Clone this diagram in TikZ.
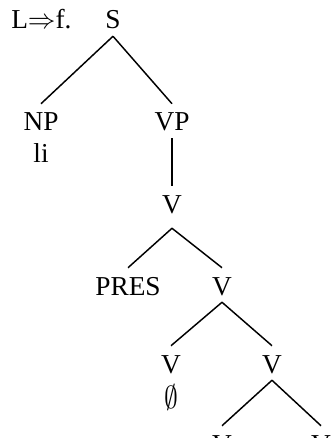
\documentclass[tikz,border=0pt]{standalone}
\usepackage{amssymb}
\usepackage{graphicx}
\usepackage{fontspec}
\setmainfont{Liberation Serif}
\tikzset{
    cat/.style={inner xsep=0pt, inner ysep=3pt, text height=17.25pt, text depth=2.25pt, anchor=base},
    low/.style={text depth=8.25pt},
    branch/.style={line width=1.1pt}
}

\begin{document}
\begin{tikzpicture}[x=0.75pt, y=-0.75pt, font=\fontsize{20.5}{24}\selectfont]
    \useasboundingbox (0,0) rectangle (333,438);
    \clip (0,0) rectangle (333,438);

    % label of the rule
    \node[anchor=base west, inner sep=0pt] (rule) at (11,29) {L$\Rightarrow$f.};

    % the categories
    \node[cat] (s) at (113,29) {S};
    \node[cat] (np) at (41,131) {NP};
    \node[anchor=base, inner sep=0pt] (li) at (41,163) {li};
    \node[cat] (vp) at (172,131) {VP};
    \node[cat, low] (v1) at (172,213) {V};
    \node[cat] (pres) at (128,295) {PRES};
    \node[cat] (v2) at (222,295) {V};
    \node[cat] (v3) at (171,373) {V};
    \node[anchor=base, inner sep=0pt] (zero) at (171,408) {\scalebox{1}[1.15]{$\emptyset$}};
    \node[cat] (v4) at (272,373) {V};
    \node[cat] (v5) at (222,453) {V};
    \node[cat] (v6) at (321,453) {V};

    % draw the branches
    \draw[branch] (s.south) -- (np.north);
    \draw[branch] (s.south) -- (vp.north);
    \draw[branch] (vp.south) -- (v1.north);
    \draw[branch] (v1.south) -- (pres.north);
    \draw[branch] (v1.south) -- (v2.north);
    \draw[branch] (v2.south) -- (v3.north);
    \draw[branch] (v2.south) -- (v4.north);
    \draw[branch] (v4.south) -- (v5.north);
    \draw[branch] (v4.south) -- (v6.north);
\end{tikzpicture}
\end{document}
